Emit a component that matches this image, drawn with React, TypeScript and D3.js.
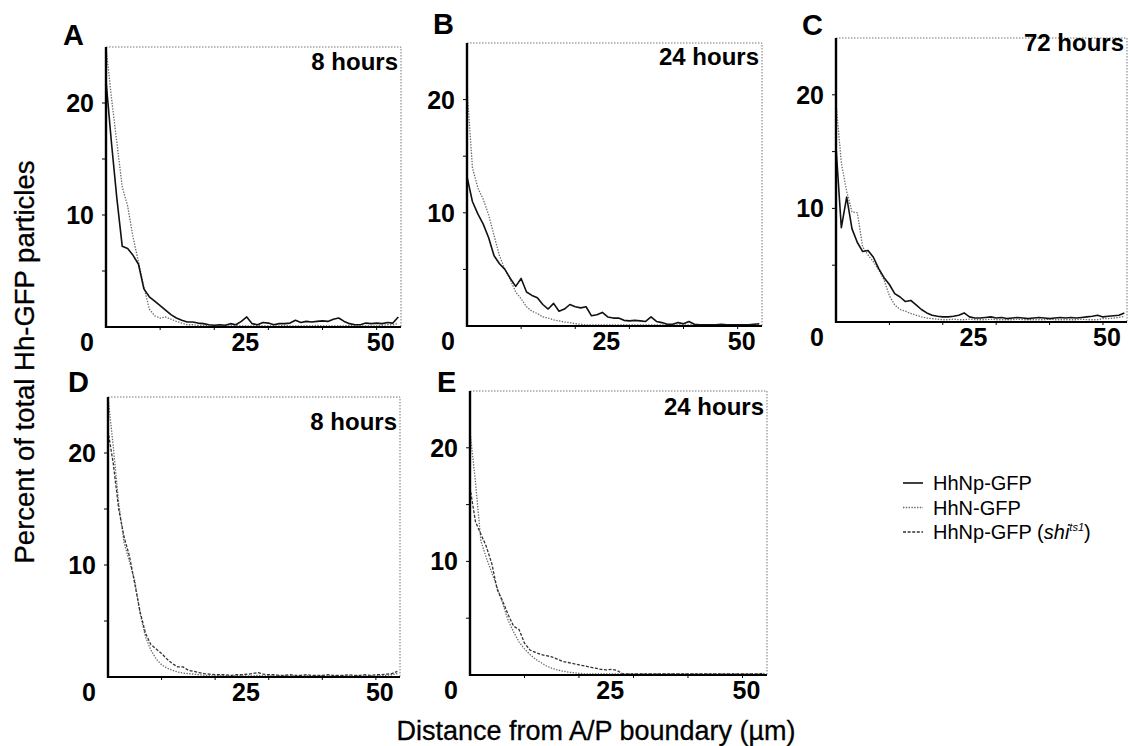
import React from 'react';
import * as d3 from 'd3';

// distance bins (µm from the A/P boundary)
const distance = [
  0, 1, 2, 3, 4, 5, 6, 7, 8, 9, 10, 11, 12, 13, 14, 15, 16, 17, 18, 19,
  20, 21, 22, 23, 24, 25, 26, 27, 28, 29, 30, 31, 32, 33, 34, 35, 36, 37, 38, 39,
  40, 41, 42, 43, 44, 45, 46, 47, 48, 49, 50, 51, 52, 53, 54,
];

const yTicks = [10, 20];
const xTicks = [25, 50];
const timeLabels = ['8 hours', '24 hours', '72 hours', '8 hours', '24 hours'];
const legendLabels = ['HhNp-GFP', 'HhN-GFP', 'HhNp-GFP'];

// A - 8 hours
const aHhNp = [
  22, 16.5, 11.5, 7.2, 7.0, 6.4, 5.6, 3.4, 2.7, 2.3, 1.9, 1.5, 1.1, 0.8, 0.6, 0.45, 0.45, 0.35, 0.3, 0.2,
  0.15, 0.2, 0.15, 0.3, 0.2, 0.5, 0.9, 0.3, 0.2, 0.4, 0.35, 0.2, 0.3, 0.3, 0.35, 0.6, 0.4, 0.5, 0.45, 0.5,
  0.55, 0.5, 0.7, 0.8, 0.5, 0.3, 0.2, 0.2, 0.35, 0.3, 0.35, 0.3, 0.4, 0.35, 0.9,
];
const aHhN = [
  25, 20.5, 16.5, 12.5, 10.8, 8.0, 5.8, 3.6, 1.6, 1.0, 0.8, 0.9, 0.7, 0.5, 0.35, 0.2, 0.2, 0.15, 0.15, 0.1,
  0.1, 0.15, 0.1, 0.1, 0.15, 0.1, 0.1, 0.1, 0.15, 0.1, 0.1, 0.1, 0.1, 0.15, 0.1, 0.1, 0.1, 0.1, 0.1, 0.15,
  0.1, 0.1, 0.1, 0.1, 0.1, 0.15, 0.1, 0.1, 0.1, 0.1, 0.1, 0.15, 0.2, 0.2, 0.3,
];

// B - 24 hours
const bHhNp = [
  13.2, 11, 9.9, 9.0, 7.8, 6.2, 5.5, 5.0, 4.2, 3.5, 4.2, 3.0, 2.7, 2.5, 1.9, 1.5, 2.0, 1.3, 1.5, 1.9,
  1.7, 1.6, 1.7, 0.9, 1.0, 1.2, 0.8, 0.7, 0.7, 0.5, 0.45, 0.5, 0.45, 0.4, 0.8, 0.4, 0.3, 0.15, 0.15, 0.3,
  0.2, 0.4, 0.15, 0.1, 0.1, 0.1, 0.1, 0.15, 0.1, 0.1, 0.1, 0.1, 0.1, 0.15, 0.2,
];
const bHhN = [
  21, 14, 12.2, 11.2, 9.8, 8.0, 6.2, 5.0, 4.1, 3.0, 2.4, 1.7, 1.3, 1.1, 0.8, 0.7, 0.55, 0.45, 0.35, 0.3,
  0.2, 0.15, 0.1, 0.1, 0.1, 0.1, 0.1, 0.1, 0.1, 0.1, 0.1, 0.1, 0.1, 0.1, 0.1, 0.1, 0.1, 0.1, 0.1, 0.1,
  0.1, 0.1, 0.1, 0.1, 0.1, 0.1, 0.1, 0.1, 0.1, 0.1, 0.1, 0.1, 0.1, 0.1, 0.1,
];

// C - 72 hours
const cHhNp = [
  15.4, 8.3, 11.0, 8.2, 7.0, 6.2, 6.3, 5.7, 4.7, 3.9, 3.3, 2.5, 2.2, 1.8, 1.9, 1.5, 1.1, 0.8, 0.6, 0.5,
  0.45, 0.45, 0.5, 0.6, 0.8, 0.45, 0.35, 0.35, 0.4, 0.45, 0.35, 0.4, 0.3, 0.35, 0.4, 0.35, 0.3, 0.35, 0.4, 0.35,
  0.3, 0.35, 0.4, 0.35, 0.4, 0.35, 0.4, 0.45, 0.5, 0.6, 0.45, 0.5, 0.55, 0.6, 0.8,
];
const cHhN = [
  19.3, 14.0, 11.5, 9.7, 9.6, 6.6, 5.9, 5.3, 4.6, 3.7, 2.3, 1.5, 1.1, 0.95, 0.75, 0.6, 0.45, 0.35, 0.3, 0.25,
  0.2, 0.2, 0.25, 0.2, 0.2, 0.25, 0.2, 0.2, 0.2, 0.25, 0.2, 0.2, 0.2, 0.2, 0.25, 0.2, 0.2, 0.2, 0.2, 0.2,
  0.25, 0.2, 0.2, 0.2, 0.2, 0.2, 0.25, 0.2, 0.2, 0.2, 0.3, 0.3, 0.35, 0.4, 0.5,
];

// D - 8 hours
const dHhN = [
  25, 20.5, 15.5, 12, 10.3, 8.6, 5.6, 3.6, 2.4, 1.6, 1.1, 0.8, 0.6, 0.45, 0.35, 0.3, 0.25, 0.2, 0.15, 0.1,
  0.1, 0.1, 0.1, 0.1, 0.1, 0.1, 0.1, 0.1, 0.15, 0.1, 0.1, 0.1, 0.1, 0.1, 0.1, 0.1, 0.1, 0.1, 0.1, 0.1,
  0.1, 0.1, 0.1, 0.1, 0.1, 0.1, 0.1, 0.1, 0.1, 0.1, 0.1, 0.1, 0.15, 0.2, 0.3,
];
const dShi = [
  22, 19, 15, 12.5, 10.8, 8.3, 5.8, 3.9, 2.9, 2.5, 2.1, 1.6, 1.2, 0.9, 0.9, 0.6, 0.5, 0.4, 0.3, 0.25,
  0.2, 0.2, 0.2, 0.15, 0.2, 0.2, 0.25, 0.3, 0.4, 0.25, 0.2, 0.2, 0.15, 0.15, 0.2, 0.15, 0.15, 0.2, 0.15, 0.15,
  0.15, 0.2, 0.15, 0.15, 0.15, 0.2, 0.15, 0.15, 0.2, 0.15, 0.2, 0.2, 0.25, 0.3, 0.5,
];

// E - 24 hours
const eHhN = [
  21.5, 17, 11.8, 10.3, 9.0, 7.7, 6.3, 4.8, 3.8, 2.9, 2.3, 1.8, 1.4, 1.1, 0.8, 0.6, 0.45, 0.35, 0.25, 0.2,
  0.15, 0.1, 0.1, 0.1, 0.1, 0.1, 0.1, 0.1, 0.1, 0.1, 0.1, 0.1, 0.1, 0.1, 0.1, 0.1, 0.1, 0.1, 0.1, 0.1,
  0.1, 0.1, 0.1, 0.1, 0.1, 0.1, 0.1, 0.1, 0.1, 0.1, 0.1, 0.1, 0.1, 0.1, 0.1,
];
const eShi = [
  16.5, 13.5, 12.4, 11.3, 9.8, 7.5, 6.5, 5.3, 4.3, 4.0, 2.8, 2.2, 2.0, 1.8, 1.7, 1.6, 1.4, 1.2, 1.1, 1.0,
  0.9, 0.8, 0.7, 0.6, 0.5, 0.45, 0.5, 0.4, 0.1, 0.1, 0.1, 0.1, 0.1, 0.1, 0.1, 0.1, 0.1, 0.1, 0.1, 0.1,
  0.1, 0.1, 0.1, 0.1, 0.1, 0.1, 0.1, 0.1, 0.1, 0.1, 0.1, 0.1, 0.1, 0.1, 0.15,
];

const FONT = '"Liberation Sans", Arial, Helvetica, sans-serif';

const lineStyle = {
  np: { stroke: '#111', width: 1.6, dash: undefined },
  n: { stroke: '#6a6a6a', width: 1.3, dash: '1.4,1.4' },
  shi: { stroke: '#333', width: 1.3, dash: '3,1.6' },
};

// panel layout: box = [left, top, right, bottom]
const panels = [
  { letter: 'A', box: [106, 47, 401, 327], letterAt: [63, 45], labelDy: 23, series: [['n', aHhN], ['np', aHhNp]] },
  { letter: 'B', box: [467, 43, 762, 326], letterAt: [433, 34], labelDy: 22, series: [['n', bHhN], ['np', bHhNp]] },
  { letter: 'C', box: [836, 38, 1127, 322], letterAt: [802, 35], labelDy: 13, series: [['n', cHhN], ['np', cHhNp]] },
  { letter: 'D', box: [108, 397, 400, 677], letterAt: [68, 392], labelDy: 33, series: [['n', dHhN], ['shi', dShi]] },
  { letter: 'E', box: [470, 391, 767, 675], letterAt: [437, 392], labelDy: 24, series: [['n', eHhN], ['shi', eShi]] },
];

const Panel = ({ p, label }) => {
  const [left, top, right, bottom] = p.box;
  const x = d3.scaleLinear().domain([0, 54.5]).range([left, right]);
  const y = d3.scaleLinear().domain([0, 25]).range([bottom, top]);
  const line = d3.line().x((d) => x(d[0])).y((d) => y(d[1]));

  return (
    <g>
      {/* dotted frame on top & right */}
      <path d={`M${left},${top}H${right}V${bottom}`} fill="none" stroke="#777" strokeWidth={1} strokeDasharray="1.5,1.5" />
      {p.series.map(([kind, vals], i) => {
        const s = lineStyle[kind];
        return (
          <path key={i} d={line(distance.map((d, j) => [d, vals[j]]))} fill="none"
            stroke={s.stroke} strokeWidth={s.width} strokeDasharray={s.dash} strokeLinejoin="round" />
        );
      })}
      {/* axes */}
      <line x1={left} x2={left} y1={top} y2={bottom + 1} stroke="#000" strokeWidth={2.4} />
      <line x1={left} x2={right} y1={bottom} y2={bottom} stroke="#000" strokeWidth={1.8} />
      {[5, 10, 15, 20].map((t) => (
        <line key={t} x1={left - 4} x2={left} y1={y(t)} y2={y(t)} stroke="#000" strokeWidth={1} />
      ))}
      {[10, 20, 30, 40, 50].map((t) => (
        <line key={t} x1={x(t)} x2={x(t)} y1={bottom} y2={bottom + 3} stroke="#000" strokeWidth={1} />
      ))}
      {yTicks.map((t) => (
        <text key={t} x={left - 12} y={y(t)} dy="0.36em" textAnchor="end" fontSize={25} fontWeight="bold">{t}</text>
      ))}
      <text x={left - 19} y={bottom + 24} textAnchor="middle" fontSize={25} fontWeight="bold">0</text>
      {xTicks.map((t) => (
        <text key={t} x={x(t) + 4} y={bottom + 24} textAnchor="middle" fontSize={25} fontWeight="bold">{t}</text>
      ))}
      <text x={right - 3} y={top + p.labelDy} textAnchor="end" fontSize={24} fontWeight="bold">{label}</text>
      <text x={p.letterAt[0]} y={p.letterAt[1]} fontSize={29} fontWeight="bold">{p.letter}</text>
    </g>
  );
};

export default function App() {
  const legendKinds = ['np', 'n', 'shi'];
  return (
    <svg width={1130} height={746} style={{ position: 'absolute', left: 0, top: 0, background: '#fff' }} fontFamily={FONT}>
      <rect width={1130} height={746} fill="#fff" />
      {panels.map((p, i) => (
        <Panel key={p.letter} p={p} label={timeLabels[i]} />
      ))}
      <text transform="translate(34,362) rotate(-90)" textAnchor="middle" fontSize={27.5} stroke="#000" strokeWidth={0.3}>
        Percent of total Hh-GFP particles
      </text>
      <text x={596} y={740} textAnchor="middle" fontSize={27} stroke="#000" strokeWidth={0.3}>
        Distance from A/P boundary (µm)
      </text>
      {legendKinds.map((k, i) => {
        const s = lineStyle[k];
        const cy = 483 + i * 24.5;
        return (
          <g key={k}>
            <line x1={903} x2={923} y1={cy} y2={cy} stroke={s.stroke} strokeWidth={s.width} strokeDasharray={s.dash} />
            <text x={933} y={cy} dy="0.36em" fontSize={20}>
              {legendLabels[i]}
              {k === 'shi' && (
                <>
                  {' ('}
                  <tspan fontStyle="italic">shi</tspan>
                  <tspan fontStyle="italic" fontSize={11} dy={-8}>ts1</tspan>
                  <tspan dy={8}>)</tspan>
                </>
              )}
            </text>
          </g>
        );
      })}
    </svg>
  );
}
